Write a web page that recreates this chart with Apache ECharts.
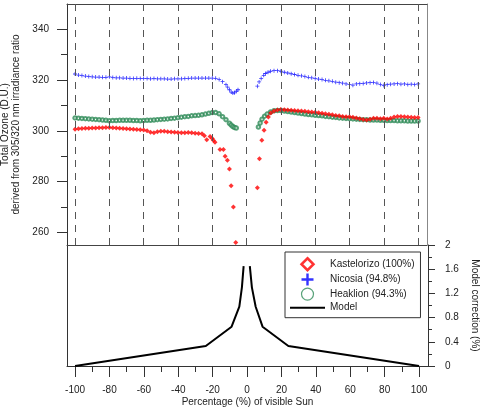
<!DOCTYPE html>
<html>
<head>
<meta charset="utf-8">
<script src="https://cdn.jsdelivr.net/npm/echarts@6/dist/echarts.min.js"></script>
<style>
  html, body { margin: 0; padding: 0; background: #fff; }
  #chart { width: 480px; height: 408px; }
</style>
</head>
<body>
<div id="chart"></div>
<script>
// x positions (% of visible Sun) for labels and dashed guides
const xTickLabels = [-100, -80, -60, -40, -20, 0, 20, 40, 60, 80, 100];
const xMinorTicks = [-90, -70, -50, -30, -10, 10, 30, 50, 70, 90];
const ozoneTickLabels = [260, 280, 300, 320, 340];
const ozoneMinorTicks = [270, 290, 310, 330];

// Kastelorizo (100%) – total ozone [x, DU]
const kastelorizo = [
  [-100, 300.6], [-98, 300.8], [-96, 300.9], [-94, 301.0], [-92, 301.0], [-90, 301.1],
  [-88, 301.1], [-86, 301.2], [-84, 301.2], [-82, 301.3], [-80, 301.3], [-78, 301.2],
  [-76, 301.1], [-74, 301.0], [-72, 300.9], [-70, 300.8], [-68, 300.7], [-66, 300.6],
  [-64, 300.5], [-62, 300.4], [-60, 300.3], [-58, 300.0], [-56, 299.4], [-54, 299.2],
  [-52, 299.6], [-50, 299.8], [-48, 299.8], [-46, 299.6], [-44, 299.5], [-42, 299.4],
  [-40, 299.3], [-38, 299.2], [-36, 299.2], [-34, 299.3], [-32, 299.2], [-30, 299.1],
  [-28, 299.0], [-26, 298.9], [-24.6, 298.1], [-23.2, 296.5], [-21.3, 297.8], [-20, 297.0],
  [-19.4, 296.3], [-18.4, 295.5], [-15.5, 292.6], [-13.5, 292.6], [-12.5, 290.0],
  [-11.2, 288.4], [-10, 285.0], [-9, 278.4], [-7.7, 270.0], [-6.3, 256.0],
  [6.3, 277.6], [7.5, 289.0], [8.9, 296.3], [10.2, 300.2], [11.4, 303.4], [12.7, 305.5],
  [14.1, 307.0], [16, 307.8], [18, 308.2], [20, 308.4], [22, 308.3], [24, 308.2],
  [26, 308.1], [28, 308.0], [30, 307.9], [32, 307.8], [34, 307.7], [36, 307.5],
  [38, 307.4], [40, 307.3], [42, 307.1], [44, 306.9], [46, 306.7], [48, 306.5],
  [50, 306.3], [52, 306.0], [54, 305.9], [56, 305.7], [58, 305.6], [60, 305.6],
  [62, 305.4], [64, 305.1], [66, 304.8], [68, 304.5], [70, 304.3], [72, 304.6],
  [74, 305.0], [76, 305.0], [78, 304.8], [80, 305.0], [82, 304.7], [84, 305.0],
  [86, 305.5], [88, 305.7], [90, 305.7], [92, 305.6], [94, 305.5], [96, 305.4],
  [98, 305.3], [100, 305.3]
];

// Nicosia (94.8%)
const nicosia = [
  [-100, 322.4], [-98, 322.0], [-96, 321.8], [-94, 321.6], [-92, 321.4], [-90, 321.3],
  [-88, 321.2], [-86, 321.2], [-84, 321.1], [-82, 321.1], [-80, 321.3], [-78, 321.0],
  [-76, 320.9], [-74, 320.9], [-72, 320.8], [-70, 320.8], [-68, 320.7], [-66, 320.6],
  [-64, 320.7], [-62, 320.6], [-60, 320.6], [-58, 320.6], [-56, 320.5], [-54, 320.6],
  [-52, 320.5], [-50, 320.5], [-48, 320.5], [-46, 320.4], [-44, 320.4], [-42, 320.5],
  [-40, 320.5], [-38, 320.5], [-36, 320.6], [-34, 320.7], [-32, 320.8], [-30, 320.8],
  [-28, 320.8], [-26, 320.8], [-24, 320.8], [-22, 320.8], [-20, 320.8], [-18, 320.7],
  [-16, 320.2], [-14, 319.4], [-12, 318.2], [-11, 317.2], [-10, 316.2], [-9, 315.3],
  [-8, 314.9], [-7, 315.0], [-6, 315.6], [-5, 316.2],
  [6.3, 317.6], [7.3, 319.3], [8.5, 320.6], [10, 321.9], [11, 322.6], [12.5, 323.1],
  [14, 323.5], [16, 323.7], [18, 323.7], [20, 323.5], [22, 323.1], [24, 322.8],
  [26, 322.5], [28, 322.2], [30, 321.9], [32, 321.7], [34, 321.4], [36, 321.1],
  [38, 320.9], [40, 320.6], [42, 320.4], [44, 320.2], [46, 319.9], [48, 319.7],
  [50, 319.5], [52, 319.2], [54, 319.0], [56, 318.8], [58, 318.5], [60, 318.2],
  [62, 318.0], [64, 318.5], [66, 318.6], [68, 318.7], [70, 318.9], [72, 319.0],
  [74, 319.1], [76, 318.8], [78, 318.3], [80, 317.9], [82, 318.2], [84, 318.4],
  [86, 318.5], [88, 318.6], [90, 318.4], [92, 318.5], [94, 318.3], [96, 318.4],
  [98, 318.3], [100, 318.5]
];

// Heaklion (94.3%)
const heaklion = [
  [-100, 305.1], [-98, 305.0], [-96, 304.9], [-94, 304.8], [-92, 304.7], [-90, 304.6],
  [-88, 304.5], [-86, 304.4], [-84, 304.3], [-82, 304.2], [-80, 304.0], [-78, 304.1],
  [-76, 304.1], [-74, 304.2], [-72, 304.2], [-70, 304.2], [-68, 304.2], [-66, 304.1],
  [-64, 304.1], [-62, 304.0], [-60, 304.1], [-58, 304.2], [-56, 304.2], [-54, 304.3],
  [-52, 304.4], [-50, 304.5], [-48, 304.6], [-46, 304.7], [-44, 304.9], [-42, 305.0],
  [-40, 305.2], [-38, 305.4], [-36, 305.6], [-34, 305.7], [-32, 305.9], [-30, 306.0],
  [-28, 306.1], [-26, 306.3], [-24, 306.6], [-22, 306.9], [-20, 307.2], [-18, 307.2],
  [-16, 306.7], [-14, 305.6], [-12, 304.4], [-10, 303.0], [-9, 302.3], [-8, 301.7],
  [-7, 301.3], [-6, 301.1],
  [6.9, 301.5], [7.9, 303.1], [9, 304.6], [10.5, 305.8], [12, 306.6], [14, 307.4],
  [16, 307.9], [18, 308.0], [20, 308.0], [22, 307.8], [24, 307.6], [26, 307.4],
  [28, 307.2], [30, 307.0], [32, 306.8], [34, 306.6], [36, 306.4], [38, 306.3],
  [40, 306.1], [42, 306.0], [44, 305.9], [46, 305.7], [48, 305.6], [50, 305.4],
  [52, 305.3], [54, 305.1], [56, 305.0], [58, 304.9], [60, 304.8], [62, 304.7],
  [64, 304.6], [66, 304.5], [68, 304.4], [70, 304.4], [72, 304.3], [74, 304.3],
  [76, 304.3], [78, 304.2], [80, 304.2], [82, 304.1], [84, 304.1], [86, 304.1],
  [88, 304.0], [90, 304.0], [92, 304.0], [94, 303.9], [96, 303.9], [98, 303.9],
  [100, 303.9]
];

// model correction (%), gap at 0
const modelX = [-100, -24, -9, -4.5, -3, -2, 0, 1.6, 2.8, 5, 9, 24, 100];
const modelY = [0, 0.33, 0.65, 0.98, 1.3, 1.65, null, 1.65, 1.3, 0.98, 0.65, 0.33, 0];

const FONT = "'Liberation Sans', Arial, sans-serif";
const TXT = '#222';
const xMin = -104.7, xMax = 105.2;
const plusPath = 'path://M4,0H6V4H10V6H6V10H4V6H0V4H4Z';
const diamondPath = 'path://M5,0L10,5L5,10L0,5Z';
const linePath = 'path://M0,0H35V2H0Z';

const chart = echarts.init(document.getElementById('chart'));

const hiddenX = (grid, pos, line) => ({
  type: 'value', gridIndex: grid, position: pos, min: xMin, max: xMax,
  axisLine: { show: line, onZero: false, lineStyle: { color: '#444', width: 1 } },
  axisTick: { show: false }, axisLabel: { show: false }, splitLine: { show: false }
});

const option = {
  animation: false,
  textStyle: { fontFamily: FONT },
  grid: [
    { left: 67, top: 4, width: 360, height: 241, outerBoundsMode: 'none', containLabel: false },
    { left: 67, top: 245, width: 361, height: 121, outerBoundsMode: 'none', containLabel: false }
  ],
  legend: {
    orient: 'vertical',
    left: 285, top: 252,
    padding: [5, 6, 5, 5],
    itemGap: 2,
    itemWidth: 35, itemHeight: 12,
    borderColor: '#333', borderWidth: 1,
    textStyle: { fontSize: 10, color: TXT, fontFamily: FONT },
    data: [
      { name: 'Kastelorizo (100%)', icon: diamondPath,
        itemStyle: { color: '#fff', borderColor: '#ff0000', borderWidth: 2.5 } },
      { name: 'Nicosia (94.8%)', icon: plusPath, itemStyle: { color: '#0000ff' } },
      { name: 'Heaklion (94.3%)', icon: 'path://M5,0.6A4.4,4.4,0,1,1,4.99,0.6Z',
        itemStyle: { color: '#fff', borderColor: '#2e8b57', borderWidth: 1.2 } },
      { name: 'Model', icon: linePath, itemStyle: { color: '#000', borderWidth: 0 } }
    ]
  },
  xAxis: [
    hiddenX(0, 'bottom', true),
    hiddenX(0, 'top', true),
    {
      type: 'value', gridIndex: 1, position: 'bottom', min: xMin, max: xMax,
      name: 'Percentage (%) of visible Sun', nameLocation: 'middle', nameGap: 31,
      nameTextStyle: { fontSize: 10, color: TXT },
      axisLine: { onZero: false, lineStyle: { color: '#333' } },
      axisTick: { length: 11, customValues: xTickLabels, lineStyle: { color: '#333' } },
      axisLabel: { fontSize: 10, color: TXT, margin: 19, customValues: xTickLabels },
      splitLine: { show: false }
    },
    {
      type: 'value', gridIndex: 1, position: 'bottom', min: xMin, max: xMax,
      axisLine: { show: false, onZero: false },
      axisTick: { length: 6, customValues: xMinorTicks, lineStyle: { color: '#333' } },
      axisLabel: { show: false }, splitLine: { show: false }
    }
  ],
  yAxis: [
    {
      type: 'value', gridIndex: 0, position: 'left', min: 255, max: 350,
      name: 'Total Ozone (D.U.)\nderived from 305/320 nm irradiance ratio',
      nameLocation: 'middle', nameRotate: 90, nameGap: 41,
      nameTextStyle: { fontSize: 10, color: TXT, lineHeight: 11 },
      axisLine: { show: true, onZero: false, lineStyle: { color: '#333' } },
      axisTick: { length: 10, customValues: ozoneTickLabels, lineStyle: { color: '#333' } },
      axisLabel: { fontSize: 10, color: TXT, margin: 18, customValues: ozoneTickLabels },
      splitLine: { show: false }
    },
    {
      type: 'value', gridIndex: 0, position: 'left', min: 255, max: 350,
      axisLine: { show: false, onZero: false },
      axisTick: { length: 6, customValues: ozoneMinorTicks, lineStyle: { color: '#333' } },
      axisLabel: { show: false }, splitLine: { show: false }
    },
    {
      type: 'value', gridIndex: 0, position: 'right', min: 255, max: 350,
      axisLine: { show: true, onZero: false, lineStyle: { color: '#888' } },
      axisTick: { show: false }, axisLabel: { show: false }, splitLine: { show: false }
    },
    {
      type: 'value', gridIndex: 1, position: 'right', min: 0, max: 2, interval: 0.4,
      name: 'Model correction (%)', nameLocation: 'middle', nameRotate: -90, nameGap: 40,
      nameTextStyle: { fontSize: 10, color: TXT },
      axisLine: { show: true, onZero: false, lineStyle: { color: '#333' } },
      axisTick: { length: 7, lineStyle: { color: '#333' } },
      minorTick: { show: true, splitNumber: 2, length: 4, lineStyle: { color: '#333' } },
      axisLabel: { fontSize: 10, color: TXT, margin: 17 },
      splitLine: { show: false }
    },
    {
      type: 'value', gridIndex: 1, position: 'left', min: 0, max: 2,
      axisLine: { show: true, onZero: false, lineStyle: { color: '#333' } },
      axisTick: { show: false }, axisLabel: { show: false }, splitLine: { show: false }
    }
  ],
  series: [
    {
      name: 'Kastelorizo (100%)', type: 'scatter', xAxisIndex: 0, yAxisIndex: 0,
      symbol: 'diamond', symbolSize: 5, itemStyle: { color: '#ff0000' },
      data: kastelorizo, z: 4,
      markLine: {
        silent: true, symbol: 'none', label: { show: false },
        lineStyle: { color: '#555', type: [7, 6], width: 1 },
        data: xTickLabels.map(v => ({ xAxis: v }))
      }
    },
    {
      name: 'Nicosia (94.8%)', type: 'scatter', xAxisIndex: 0, yAxisIndex: 0,
      symbol: plusPath, symbolSize: 4, itemStyle: { color: '#0000ff' },
      data: nicosia, z: 3
    },
    {
      name: 'Heaklion (94.3%)', type: 'scatter', xAxisIndex: 0, yAxisIndex: 0,
      symbol: 'emptyCircle', symbolSize: 3.5,
      itemStyle: { color: '#2e8b57', borderWidth: 0.9 },
      data: heaklion, z: 3
    },
    {
      name: 'Model', type: 'line', xAxisIndex: 2, yAxisIndex: 3,
      symbol: 'none', showSymbol: false, connectNulls: false,
      lineStyle: { color: '#000', width: 2 }, itemStyle: { color: '#000' },
      data: modelX.map((x, i) => [x, modelY[i] === null ? '-' : modelY[i]])
    }
  ]
};

chart.setOption(option);
</script>
</body>
</html>
